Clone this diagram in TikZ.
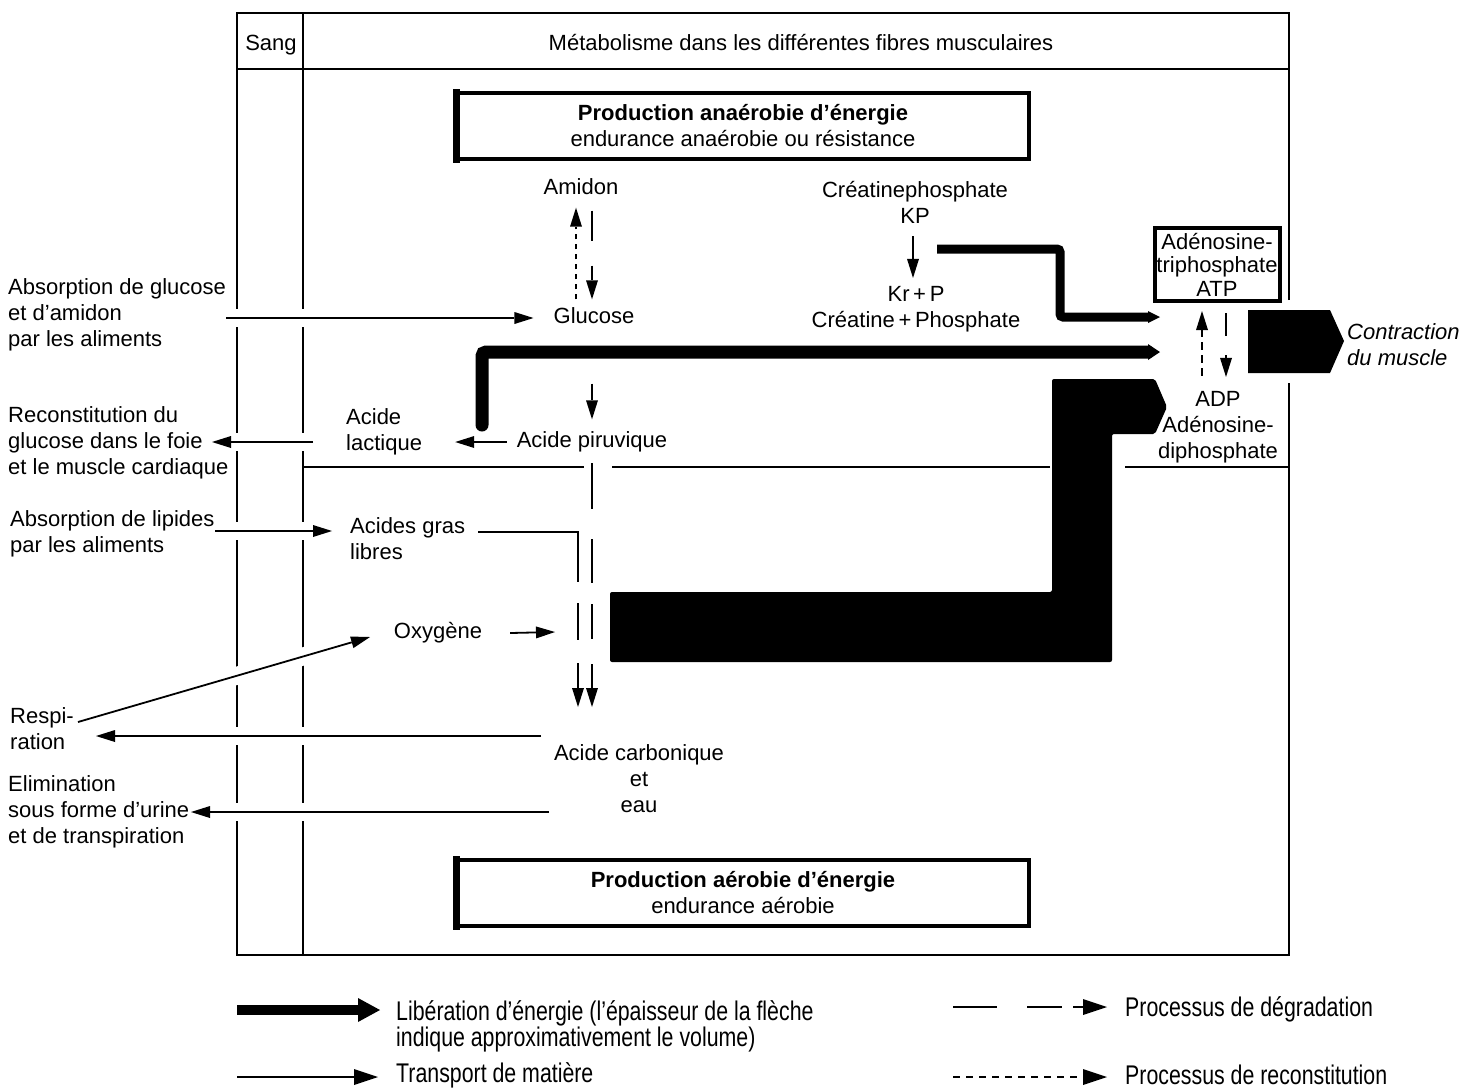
\documentclass[tikz,border=0pt]{standalone}
\usepackage{fontspec}
\setmainfont{Liberation Sans}
\newfontfamily\condfont[FakeStretch=0.79]{Liberation Sans}
\usetikzlibrary{arrows.meta}
\begin{document}
\begin{tikzpicture}[x=1pt,y=-1pt,
  every node/.style={inner sep=0pt, font=\fontsize{22}{26}\selectfont},
  lbl/.style={align=center},
  lftxt/.style={align=left, anchor=west},
  one/.style={text height=16pt, text depth=5pt},
  ln/.style={line width=1.8pt},
  tip/.style={-{Triangle[length=19pt,width=12pt,line width=0pt]}},
  transp/.style={ln, tip},
  halo/.style={preaction={draw=white, line width=18pt, arrows=-}},
  degr/.style={ln, tip},
  recon/.style={ln, tip, dash pattern=on 5pt off 5pt},
  energy/.style 2 args={line width=#1, -{Triangle[length=12pt,width=#2,line width=0pt]}},
  boxb/.style={draw, line width=4pt, align=center},
  legfont/.style={font=\fontsize{27}{26}\selectfont\condfont}
]
\useasboundingbox (0,0) rectangle (1478,1088);

% ---------- frame ----------
\draw[ln] (1289,300) -- (1289,13) -- (237,13) -- (237,955) -- (1289,955) -- (1289,383);
\draw[ln] (237,69) -- (1289,69);
\draw[ln] (303,13) -- (303,955);
\draw[ln] (303,467) -- (584,467) (612,467) -- (1050,467) (1125,467) -- (1289,467);

% ---------- boxes ----------
\node[boxb, minimum width=572pt, minimum height=66pt] (anaer) at (743,126)
  {\textbf{Production anaérobie d’énergie}\\endurance anaérobie ou résistance};
\fill ([xshift=-2pt,yshift=2pt]anaer.north west) rectangle ([xshift=5pt,yshift=-2pt]anaer.south west);
\node[boxb, minimum width=572pt, minimum height=66pt] (aer) at (743,893)
  {\textbf{Production aérobie d’énergie}\\endurance aérobie};
\fill ([xshift=-2pt,yshift=2pt]aer.north west) rectangle ([xshift=5pt,yshift=-2pt]aer.south west);
\node[boxb, minimum width=125pt, minimum height=73pt, font=\fontsize{22}{23.5}\selectfont] (atp) at (1217,264.5)
  {Adénosine-\\triphosphate\\ATP};

% ---------- text nodes ----------
\node[one] (sang) at (271,45) {Sang};
\node[one] (meta) at (801,45) {Métabolisme dans les différentes fibres musculaires};
\node[one] (amidon) at (581,189) {Amidon};
\node[lbl] (cp) at (915,202) {Créatinephosphate\\KP};
\node[one] (glucose) at (594,318) {Glucose};
\node[lbl] (krp) at (916,309) {Kr\,+\,P\\Créatine\,+\,Phosphate};
\node[lbl] (adp) at (1218,427) {ADP\\Adénosine-\\diphosphate};
\node[lftxt, font=\fontsize{22}{26}\selectfont\itshape] (contr) at (1347,345) {Contraction\\du muscle};
\node[lftxt] (lact) at (346,432) {Acide\\lactique};
\node[one] (pir) at (592,442) {Acide piruvique};
\node[lftxt] (gras) at (350,539) {Acides gras\\libres};
\node[one] (oxy) at (438,633) {Oxygène};
\node[lbl] (carb) at (639,779) {Acide carbonique\\et\\eau};

\node[lftxt] (absg) at (8,315) {Absorption de glucose\\et d’amidon\\par les aliments};
\node[lftxt] (recg) at (8,443) {Reconstitution du\\glucose dans le foie\\et le muscle cardiaque};
\node[lftxt] (absl) at (10,534) {Absorption de lipides\\par les aliments};
\node[lftxt] (resp) at (10,729) {Respi-\\ration};
\node[lftxt] (elim) at (8,812) {Elimination\\sous forme d’urine\\et de transpiration};

% ---------- coordinates ----------
\coordinate (recS) at (313,442);
\coordinate (recT) at (212,442);
\coordinate (lipS) at (215,531);
\coordinate (lipT) at (332,531);
\coordinate (grS) at (478,532);
\coordinate (ct1) at (578,707);
\coordinate (ct2) at (592,707);
\coordinate (oxT) at (555,632);
\coordinate (diaS) at (78,722);
\coordinate (diaT) at (370,637);
\coordinate (respS) at (541,736);
\coordinate (respT) at (96,736);
\coordinate (elimS) at (549,812);
\coordinate (elimT) at (191,812);
\coordinate (e1S) at (937,249);
\coordinate (e1T) at (1160,317);
\coordinate (e2S) at (482,425);
\coordinate (e2T) at (1160,352);

% ---------- thin connectors ----------
\draw[transp,halo] (absg.east |- glucose.west) -- ([xshift=-20pt]glucose.west);
\draw[recon, shorten <=8pt, shorten >=8pt] ([xshift=-18pt]glucose.north) -- ([xshift=-5pt]amidon.south);
\draw[degr, dash pattern=on 30pt off 25pt, shorten <=11pt, shorten >=8pt] ([xshift=11pt]amidon.south) -- ([xshift=-2pt]glucose.north);
\draw[transp, shorten <=13pt, shorten >=8pt] ([xshift=-2pt]cp.south) -- ([xshift=-3pt]krp.north);
\draw[transp] ([xshift=-2pt,yshift=-55pt]glucose.south) -- ([yshift=12pt]pir.north);
\draw[transp, shorten >=33pt] ([xshift=-10pt]pir.west) -- (lact.east |- pir.west);
\draw[transp,halo] (recS) -- (recT);
\draw[transp,halo] (lipS) -- (lipT);
\draw[degr, dash pattern=on 150pt off 21pt on 37pt off 23pt on 100pt] (grS) -| (ct1);
\draw[degr, dash pattern=on 46pt off 30pt on 44pt off 21pt on 35pt off 25pt on 100pt] ([yshift=-10.5pt]pir.south) -- (ct2);
\draw[transp] ([xshift=28pt]oxy.east) -- (oxT);
\draw[transp,halo] (respS) -- (respT);
\draw[transp,halo] (elimS) -- (elimT);
\draw[transp,halo] (diaS) -- (diaT);
\draw[recon, dash pattern=on 8pt off 5pt, shorten <=15pt, shorten >=8pt] ([xshift=-16pt]adp.north) -- ([xshift=-15pt]atp.south);
\draw[degr, dash pattern=on 23pt off 19pt on 50pt, shorten <=10pt, shorten >=14pt] ([xshift=9pt]atp.south) -- ([xshift=8pt]adp.north);

% ---------- energy arrows ----------
\draw[energy={9pt}{12pt}, rounded corners=3pt] (e1S) -- (1060,249) -- (1060,317) -- (e1T);
\draw[energy={13pt}{16pt}, rounded corners=4pt, line cap=round] (e2S) -- (482,352) -- (e2T);
\fill[rounded corners=2pt] (1052,379) -- (1155,379) -- (1167,407) -- (1155,434) -- (1112,434)
  -- (1112,662) -- (610,662) -- (610,592) -- (1052,592) -- cycle;
\fill (1248,310) -- (1330,310) -- (1344,341) -- (1330,373) -- (1248,373) -- cycle;

% ---------- legend ----------
\node[lftxt, legfont] (lib) at (396,1026) {Libération d’énergie (l’épaisseur de la flèche\\indique approximativement le volume)};
\node[lftxt, legfont] (tm) at (396,1075) {Transport de matière};
\node[lftxt, legfont] (pd) at (1125,1009) {Processus de dégradation};
\node[lftxt, legfont] (pr) at (1125,1075) {Processus de reconstitution};
\coordinate (l1S) at (237,1010);
\coordinate (l2S) at (237,1077);
\coordinate (l3S) at (953,1007);
\coordinate (l4S) at (953,1077);
\draw[line width=10pt, -{Triangle[length=22pt,width=24pt,line width=0pt]}] (l1S) -- (l1S -| 380,0);
\draw[ln, -{Triangle[length=24pt,width=16pt,line width=0pt]}] (l2S) -- ([xshift=-18pt]tm.west |- l2S);
\draw[ln, dash pattern=on 44pt off 30pt on 35pt off 11pt on 30pt, -{Triangle[length=24pt,width=16pt,line width=0pt]}] (l3S) -- ([xshift=-18pt]pd.west |- l3S);
\draw[ln, dash pattern=on 7pt off 6pt, -{Triangle[length=24pt,width=16pt,line width=0pt]}] (l4S) -- ([xshift=-18pt]pr.west |- l4S);
\end{tikzpicture}
\end{document}
